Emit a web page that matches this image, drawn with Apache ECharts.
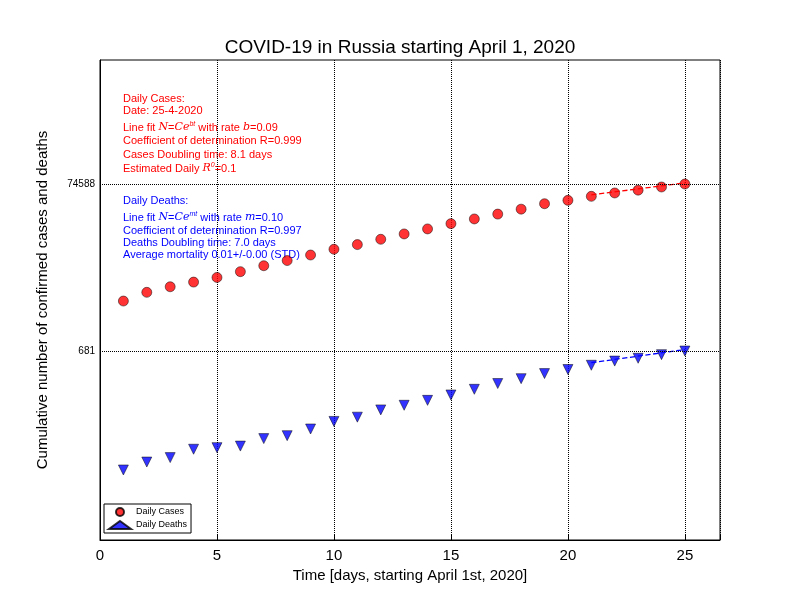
<!DOCTYPE html>
<html><head><meta charset="utf-8">
<script src="https://cdn.jsdelivr.net/npm/echarts@6/dist/echarts.min.js"></script>
<style>body{margin:0}#main{width:800px;height:600px;background:#fff}</style>
</head><body><div id="main"></div>
<script>
var days = [1,2,3,4,5,6,7,8,9,10,11,12,13,14,15,16,17,18,19,20,21,22,23,24,25];
var cases = [2777,3548,4149,4731,5389,6343,7497,8672,10131,11917,13584,15770,18328,21102,24490,27938,32008,36793,42853,47121,52763,57999,62773,68622,74588];
var deaths = [24,30,34,43,45,47,58,63,76,94,106,130,148,170,198,232,273,313,361,405,456,513,555,615,681];
var fitDays = [21,25];
var casesFit = [55000,77000];
var deathsFit = [490,710];
var yMarks = [681,74588];

var myChart = echarts.init(document.getElementById('main'));
function pairs(x, y){ var r=[]; for(var i=0;i<x.length;i++) r.push([x[i],y[i]]); return r; }
var font = 'Liberation Sans, Arial, sans-serif';
var redLines = ['Daily Cases:','Date: 25-4-2020','Line fit {i|N}={i|Ce}{s|bt} with rate {i|b}=0.09','Coefficient of determination R=0.999','Cases Doubling time: 8.1 days','Estimated Daily {i|R}{s|0}=0.1'];
var redY = [99,111,127,141,155,168];
var blueLines = ['Daily Deaths:','Line fit {i|N}={i|Ce}{s|mt} with rate {i|m}=0.10','Coefficient of determination R=0.997','Deaths Doubling time: 7.0 days','Average mortality 0.01+/-0.00 (STD)'];
var blueY = [201,217,231,243,255];
var graphics = [];
function addText(lines, ys, col){
  for (var i=0;i<lines.length;i++){
    graphics.push({type:'text', left:123, top:ys[i]-6, style:{text:lines[i], fill:col, font:'11px '+font,
      rich:{i:{fontStyle:'italic', fontFamily:'DejaVu Serif', fontSize:11, fill:col}, s:{fontStyle:'italic', fontSize:7, fill:col, verticalAlign:'top', padding:[0,0,6,0]}}}});
  }
}
addText(redLines, redY, '#ff0000');
addText(blueLines, blueY, '#0000ff');

option = {
  animation:false,
  title:{text:'COVID-19 in Russia starting April 1, 2020', left:'center', top:33, textStyle:{fontFamily:font, fontSize:19, fontWeight:'normal', color:'#000'}},
  grid:{left:100, right:80, top:60, bottom:60, show:true, borderColor:'#000', borderWidth:1},
  legend:{left:104, top:504, orient:'vertical', itemGap:3, itemWidth:22, itemHeight:8, padding:[3,4],
    borderColor:'#000', borderWidth:1, textStyle:{fontSize:9, fontFamily:font, color:'#000'},
    data:['Daily Cases','Daily Deaths']},
  xAxis:{type:'value', min:0, max:26.5, interval:5,
    name:'Time [days, starting April 1st, 2020]', nameLocation:'middle', nameGap:28,
    nameTextStyle:{fontSize:15, fontFamily:font, color:'#000'},
    axisLine:{lineStyle:{color:'#000'}}, axisTick:{inside:true, length:5, lineStyle:{color:'#000'}},
    axisLabel:{fontSize:15, fontFamily:font, color:'#000', formatter:function(v){return v%5===0&&v<=25?v:'';}},
    splitLine:{show:true, lineStyle:{type:'dotted', color:'#000'}}},
  yAxis:{type:'log', logBase:10, min:3.35, max:2440000,
    name:'Cumulative number of confirmed cases and deaths', nameLocation:'middle', nameGap:50,
    nameTextStyle:{fontSize:15, fontFamily:font, color:'#000'},
    axisLine:{lineStyle:{color:'#000'}}, axisTick:{show:false}, axisLabel:{show:false}, splitLine:{show:false}},
  graphic:graphics,
  series:[
    {name:'Daily Cases', type:'scatter', symbol:'circle', symbolSize:10, data:pairs(days,cases),
      itemStyle:{color:'#ff0000', borderColor:'#000', borderWidth:0.6},
      markLine:{silent:true, symbol:'none', data:yMarks.map(function(v){return {yAxis:v};}),
        lineStyle:{type:'dotted', color:'#000', width:1},
        label:{position:'start', formatter:function(p){return p.value;}, fontSize:10, fontFamily:font, color:'#000'}}},
    {name:'Daily Deaths', type:'scatter', symbol:'triangle', symbolRotate:180, symbolSize:10, data:pairs(days,deaths),
      itemStyle:{color:'#0000ff', borderColor:'#000', borderWidth:0.6}},
    {name:'casesFit', type:'line', data:pairs(fitDays,casesFit), symbol:'none', lineStyle:{color:'#ff0000', type:'dashed', width:1.3}},
    {name:'deathsFit', type:'line', data:pairs(fitDays,deathsFit), symbol:'none', lineStyle:{color:'#0000ff', type:'dashed', width:1.3}}
  ]
};
myChart.setOption(option);
</script></body></html>
